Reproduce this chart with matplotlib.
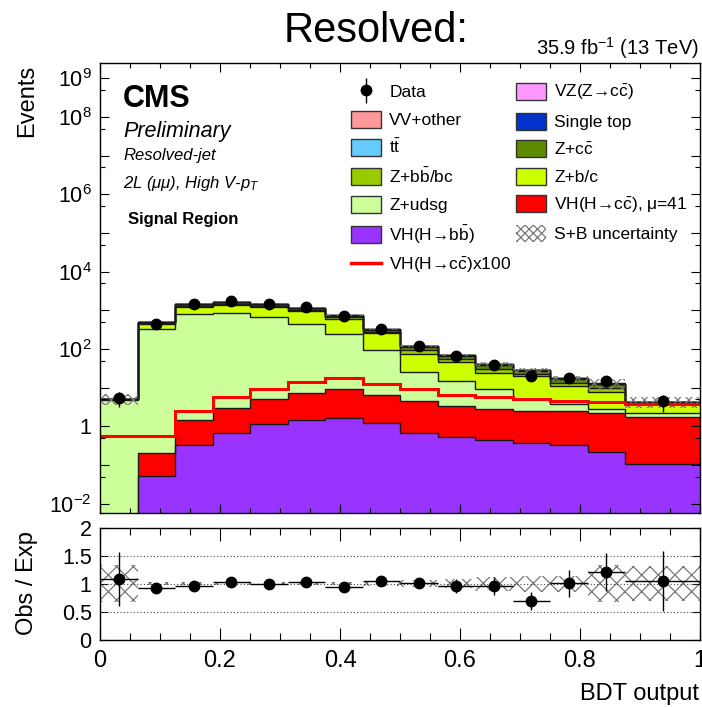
"""
Resolved-jet VH(H->cc) BDT output: stacked MC on a log scale plus an Obs/Exp ratio panel.
"""
import numpy as np
import matplotlib
matplotlib.use('Agg')
from matplotlib import pyplot as plt
from matplotlib import ticker
import matplotlib.patches as mpatches
from matplotlib.lines import Line2D

plt.rcParams['font.family'] = ['Liberation Sans', 'DejaVu Sans']
plt.rcParams['mathtext.fontset'] = 'custom'
plt.rcParams['mathtext.rm'] = 'Liberation Sans'
plt.rcParams['mathtext.it'] = 'Liberation Sans:italic'
plt.rcParams['mathtext.bf'] = 'Liberation Sans:bold'
plt.rcParams['hatch.linewidth'] = 0.9

W, H = 702, 707

# bin edges of the BDT output
edges = [0.0, 0.0625, 0.125, 0.1875, 0.25, 0.3125, 0.375, 0.4375, 0.5,
         0.5625, 0.625, 0.6875, 0.75, 0.8125, 0.875, 1.0]

# stack components, bottom to top
vh_bb = [0.0, 0.052, 0.32, 0.69, 1.13, 1.45, 1.6, 1.2, 0.69, 0.54, 0.44, 0.38, 0.33, 0.22, 0.105]
vh_cc = [0.0, 0.148, 1.13, 2.31, 3.87, 5.65, 7.4, 5.4, 3.81, 2.86, 2.36, 2.12, 2.17, 1.98, 1.675]
z_udsg = [4.9, 334, 814, 847, 660, 426, 241, 85, 20.5, 11.4, 6.3, 2.7, 1.2, 0.55, 0.42]
z_bc = [0.1, 116, 415, 540, 545, 527, 350, 163, 51, 31, 15, 14.3, 7.1, 5.05, 1.7]
z_bb = [0.08, 20, 100, 105, 110, 85, 56, 27, 17, 10, 6.5, 3.6, 2.6, 2.0, 0.16]
z_cc = [0.1, 24, 120, 125, 130, 100, 67, 32, 21, 11.5, 7.5, 4.4, 3.2, 2.4, 0.2]
ttbar = [0.01, 3.5, 18, 18, 18, 15, 10, 5, 3, 1.5, 1.2, 0.6, 0.5, 0.35, 0.02]
vv_other = [0.01, 2, 9, 9, 9, 8, 5, 2.5, 1.5, 0.8, 0.6, 0.3, 0.25, 0.2, 0.02]
single_top = [0.0, 0.5, 3, 3, 3, 2, 2, 0.5, 0.5, 0.2, 0.2, 0.1, 0.05, 0.05, 0.0]
vz_cc = [0.0, 0.1, 0.3, 0.3, 0.3, 0.3, 0.2, 0.1, 0.05, 0.03, 0.02, 0.02, 0.01, 0.01, 0.0]

# VH(H->cc) x100 overlay
vh_cc_x100 = [0.56, 0.56, 2.5, 5.6, 9.4, 14, 18, 12.7, 9.4, 6.6, 5.8, 5.0, 4.6, 4.2, 3.7]

# data
data = [5.5, 450, 1420, 1700, 1470, 1210, 705, 338, 120, 67, 38, 20, 18, 14.5, 4.4]
data_err = [2.3, 21, 38, 41, 38, 35, 27, 18, 11, 8.2, 6.2, 4.5, 4.2, 3.8, 2.1]

# relative S+B uncertainty
rel_unc = [0.33, 0.03, 0.03, 0.03, 0.03, 0.03, 0.03, 0.035, 0.06, 0.08, 0.12, 0.14, 0.14, 0.33, 0.31]

# ratio panel
ratio = [1.08, 0.92, 0.96, 1.03, 0.99, 1.03, 0.95, 1.05, 1.01, 0.96, 0.96, 0.69, 1.01, 1.21, 1.05]
ratio_err = [0.48, 0.04, 0.03, 0.03, 0.03, 0.03, 0.04, 0.06, 0.09, 0.12, 0.16, 0.155, 0.24, 0.34, 0.53]

stack = [
    (vh_bb, '#9933ff'),
    (vh_cc, '#ff0000'),
    (z_udsg, '#ccff99'),
    (z_bc, '#ccff00'),
    (z_bb, '#99cc00'),
    (z_cc, '#5c8a00'),
    (ttbar, '#66ccff'),
    (vv_other, '#ff9999'),
    (single_top, '#0033cc'),
    (vz_cc, '#ff99ff'),
]

edges = np.array(edges)
centers = 0.5 * (edges[1:] + edges[:-1])
half_w = 0.5 * (edges[1:] - edges[:-1])


def px(x, y):
    return x / W, 1 - y / H


fig = plt.figure(figsize=(W / 100, H / 100), dpi=100)
ax = fig.add_axes([100 / W, 1 - 513.3 / H, 600 / W, (513.3 - 62.7) / H])
rax = fig.add_axes([100 / W, 1 - 640 / H, 600 / W, (640 - 527.5) / H])

# stacked histograms
floor = 1e-6
bottom = np.zeros(len(centers))
for values, color in stack:
    top = bottom + np.array(values)
    ax.stairs(np.maximum(top, floor), edges, baseline=np.maximum(bottom, floor),
              fill=True, color=color, lw=0)
    bottom = top
bottom = np.zeros(len(centers))
for values, color in stack:
    top = bottom + np.array(values)
    ax.stairs(np.maximum(top, floor), edges, baseline=None, color='#1a1a1a', lw=1.0)
    bottom = top
total = bottom

# uncertainty band
rel = np.array(rel_unc)
ax.stairs(total * (1 + rel), edges, baseline=total * (1 - rel), fill=True,
          facecolor='none', edgecolor='#777777', hatch='xxx', lw=0)

ax.stairs(vh_cc_x100, edges, baseline=None, color='red', lw=2.2)

ax.errorbar(centers, data, yerr=data_err, fmt='o', color='black', ms=7.5,
            elinewidth=1.0, capsize=0)

ax.set_yscale('log')
ax.set_xlim(0, 1)
ax.set_ylim(10 ** -2.25, 10 ** 9.405)

label_decades = [-2, 0, 2, 4, 6, 8, 9]
ax.yaxis.set_major_locator(ticker.FixedLocator([10.0 ** k for k in range(-2, 10)]))
ax.yaxis.set_minor_locator(ticker.FixedLocator([5 * 10.0 ** k for k in range(-3, 9)]))


def log_fmt(v, pos):
    k = int(round(np.log10(v)))
    if k not in label_decades:
        return ''
    if k == 0:
        return '1'
    return r'$10^{%d}$' % k


ax.yaxis.set_major_formatter(ticker.FuncFormatter(log_fmt))
ax.yaxis.set_minor_formatter(ticker.NullFormatter())
ax.xaxis.set_major_locator(ticker.MultipleLocator(0.2))
ax.xaxis.set_minor_locator(ticker.MultipleLocator(0.05))
ax.tick_params(axis='both', which='both', direction='in', top=True, right=True)
ax.tick_params(axis='x', which='major', length=6.5, width=0.8, labelbottom=False)
ax.tick_params(axis='x', which='minor', length=3.5, width=0.8)
ax.tick_params(axis='y', which='major', length=6.5, width=0.8, labelsize=15.5, pad=6)
ax.tick_params(axis='y', which='minor', length=3.5, width=0.8)
for s in ax.spines.values():
    s.set_linewidth(1.0)

# ratio panel
for yv in (0.5, 1.0, 1.5):
    rax.axhline(yv, color='#444444', lw=0.8, ls=(0, (1, 2)))
rax.stairs(1 + rel, edges, baseline=1 - rel, fill=True, facecolor='none',
           edgecolor='#777777', hatch='xx', lw=0)
rax.errorbar(centers, ratio, xerr=half_w, yerr=ratio_err, fmt='o', color='black',
             ms=7.5, elinewidth=1.0, capsize=0)
rax.set_xlim(0, 1)
rax.set_ylim(0, 2)
rax.yaxis.set_major_locator(ticker.FixedLocator([0, 0.5, 1, 1.5, 2]))
rax.yaxis.set_major_formatter(ticker.FixedFormatter(['0', '0.5', '1', '1.5', '2']))
rax.xaxis.set_major_locator(ticker.MultipleLocator(0.2))
rax.xaxis.set_major_formatter(ticker.FuncFormatter(lambda v, p: '%g' % round(v, 1)))
rax.xaxis.set_minor_locator(ticker.MultipleLocator(0.05))
rax.tick_params(axis='both', which='both', direction='in', top=True, right=True)
rax.tick_params(axis='x', which='major', length=9, width=0.8, labelsize=17, pad=7)
rax.tick_params(axis='x', which='minor', length=5, width=0.8)
rax.tick_params(axis='y', which='major', length=6, width=0.8, labelsize=15.5, pad=6)
for s in rax.spines.values():
    s.set_linewidth(1.0)

# axis titles
fig.text(*px(27, 65), 'Events', rotation=90, ha='center', va='top', fontsize=17)
fig.text(*px(27, 583), 'Obs / Exp', rotation=90, ha='center', va='center', fontsize=17)
fig.text(*px(699, 700), 'BDT output', ha='right', va='baseline', fontsize=17)

# header texts
fig.text(*px(376, 42), 'Resolved:', ha='center', va='baseline', fontsize=30)
fig.text(*px(699, 55), r'35.9 fb$^{-1}$ (13 TeV)', ha='right', va='baseline', fontsize=14.5)
fig.text(*px(123, 106.7), 'CMS', ha='left', va='baseline', fontsize=22, fontweight='bold')
fig.text(*px(123, 136.7), 'Preliminary', ha='left', va='baseline', fontsize=15.5, fontstyle='italic')
fig.text(*px(123, 160), 'Resolved-jet', ha='left', va='baseline', fontsize=12, fontstyle='italic')
fig.text(*px(123, 188.3), r'2L (μμ), High V-$p_T$', ha='left', va='baseline', fontsize=12,
         fontstyle='italic')
fig.text(*px(128, 224), 'Signal Region', ha='left', va='baseline', fontsize=12, fontweight='bold')

# legend, drawn as two columns
edge = '#333333'
data_handle = (Line2D([0], [0], marker='|', color='black', ms=18, mew=1.0, ls='None'),
               Line2D([0], [0], marker='o', color='black', ms=7.5, ls='None'))
col1 = [
    (data_handle, 'Data'),
    (mpatches.Patch(facecolor='#ff9999', edgecolor=edge, lw=1), 'VV+other'),
    (mpatches.Patch(facecolor='#66ccff', edgecolor=edge, lw=1), r't$\bar{\mathrm{t}}$'),
    (mpatches.Patch(facecolor='#99cc00', edgecolor=edge, lw=1), r'Z+b$\bar{\mathrm{b}}$/bc'),
    (mpatches.Patch(facecolor='#ccff99', edgecolor=edge, lw=1), 'Z+udsg'),
    (mpatches.Patch(facecolor='#9933ff', edgecolor=edge, lw=1), r'VH(H→b$\bar{\mathrm{b}}$)'),
    (Line2D([0], [0], color='red', lw=2.5), r'VH(H→c$\bar{\mathrm{c}}$)x100'),
]
col2 = [
    (mpatches.Patch(facecolor='#ff99ff', edgecolor=edge, lw=1), r'VZ(Z→c$\bar{\mathrm{c}}$)'),
    (mpatches.Patch(facecolor='#0033cc', edgecolor=edge, lw=1), 'Single top'),
    (mpatches.Patch(facecolor='#5c8a00', edgecolor=edge, lw=1), r'Z+c$\bar{\mathrm{c}}$'),
    (mpatches.Patch(facecolor='#ccff00', edgecolor=edge, lw=1), 'Z+b/c'),
    (mpatches.Patch(facecolor='#ff0000', edgecolor=edge, lw=1), r'VH(H→c$\bar{\mathrm{c}}$), μ=41'),
    (mpatches.Patch(facecolor='none', edgecolor='#777777', hatch='xxxx', lw=0), 'S+B uncertainty'),
]
leg_kw = dict(frameon=False, fontsize=12.5, handlelength=1.75, handleheight=1.15,
              handletextpad=0.45, labelspacing=0.58, borderpad=0, borderaxespad=0,
              loc='upper left')
leg1 = ax.legend([h for h, _ in col1], [t for _, t in col1],
                 bbox_to_anchor=px(351, 83), bbox_transform=fig.transFigure, **leg_kw)
ax.add_artist(leg1)
ax.legend([h for h, _ in col2], [t for _, t in col2],
          bbox_to_anchor=px(516, 83), bbox_transform=fig.transFigure, **leg_kw)

fig.savefig('out.png', dpi=100)
